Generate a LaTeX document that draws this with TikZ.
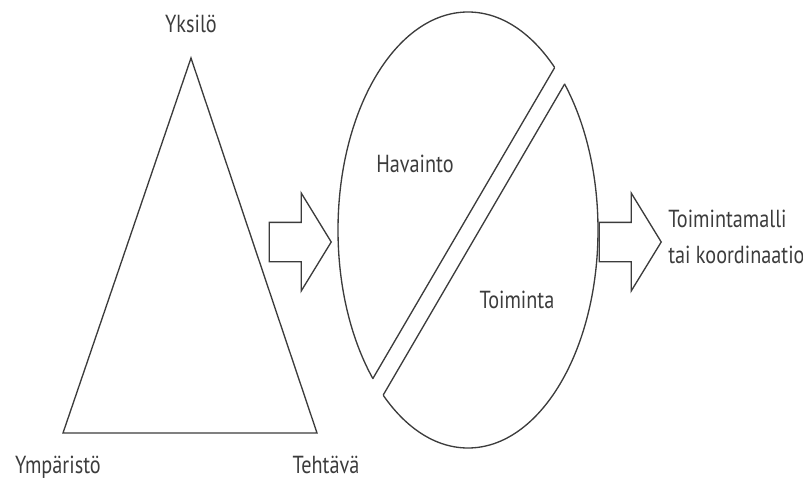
\documentclass[tikz,border=0pt]{standalone}
\usepackage{fontspec}
\setmainfont{PT Sans}[FakeStretch=0.82]
\usepackage{tikz}
\usetikzlibrary{shapes.arrows}
\definecolor{inkGray}{RGB}{60,60,60}

\begin{document}
\begin{tikzpicture}[x=0.75pt,y=-0.75pt]
\tikzset{
    label text/.style={
        text=inkGray, font=\fontsize{18.5}{22}\selectfont,
        inner sep=0pt, anchor=base
    },
    outline/.style={
        draw=inkGray, line width=1pt, line join=miter
    },
    block arrow/.style={
        single arrow, outline, anchor=tip,
        minimum height=46.5pt, inner xsep=0pt, inner ysep=14.25pt,
        single arrow head extend=22pt, single arrow tip angle=117
    }
}
\useasboundingbox (0,0) rectangle (803,481);

% Kolmio
\coordinate (apex)  at (191,58);
\coordinate (left)  at (63,433);
\coordinate (right) at (317,433);
\draw[outline] (apex) -- (left) -- (right) -- cycle;

\node[label text] (yksilo)    at (191,33)  {Yksilö};
\node[label text] (ymparisto) at (58,473)  {Ympäristö};
\node[label text] (tehtava)   at (326,473) {Tehtävä};

% Nuolet
\node[block arrow] (arrowa) at (332,242) {};
\node[block arrow] (arrowb) at (662,242) {};

% Ellipsi kahtena palana
\coordinate (cutaTop) at (646.5,-89.5);
\coordinate (cutaBot) at (280.5,536.5);
\coordinate (cutbTop) at (656.5,-73.5);
\coordinate (cutbBot) at (290.5,554);
\begin{scope}
    \clip (cutaTop) -- (cutaBot) -- (200,536.5) -- (200,-89.5) -- cycle
          (cutbTop) -- (cutbBot) -- (750,554) -- (750,-73.5) -- cycle;
    \draw[outline] (468,230) ellipse [x radius=130, y radius=218];
\end{scope}
\begin{scope}
    \clip (468,230) ellipse [x radius=130, y radius=218];
    \draw[outline] (cutaTop) -- (cutaBot);
    \draw[outline] (cutbTop) -- (cutbBot);
\end{scope}

\node[label text] (havainto) at (415,173) {Havainto};
\node[label text] (toiminta) at (517,308) {Toiminta};

% Tulos
\node[label text, anchor=base west] (malli) at (668,227) {Toimintamalli};
\node[label text, anchor=base west] (koord) at (668,263) {tai koordinaatio};
\end{tikzpicture}
\end{document}
